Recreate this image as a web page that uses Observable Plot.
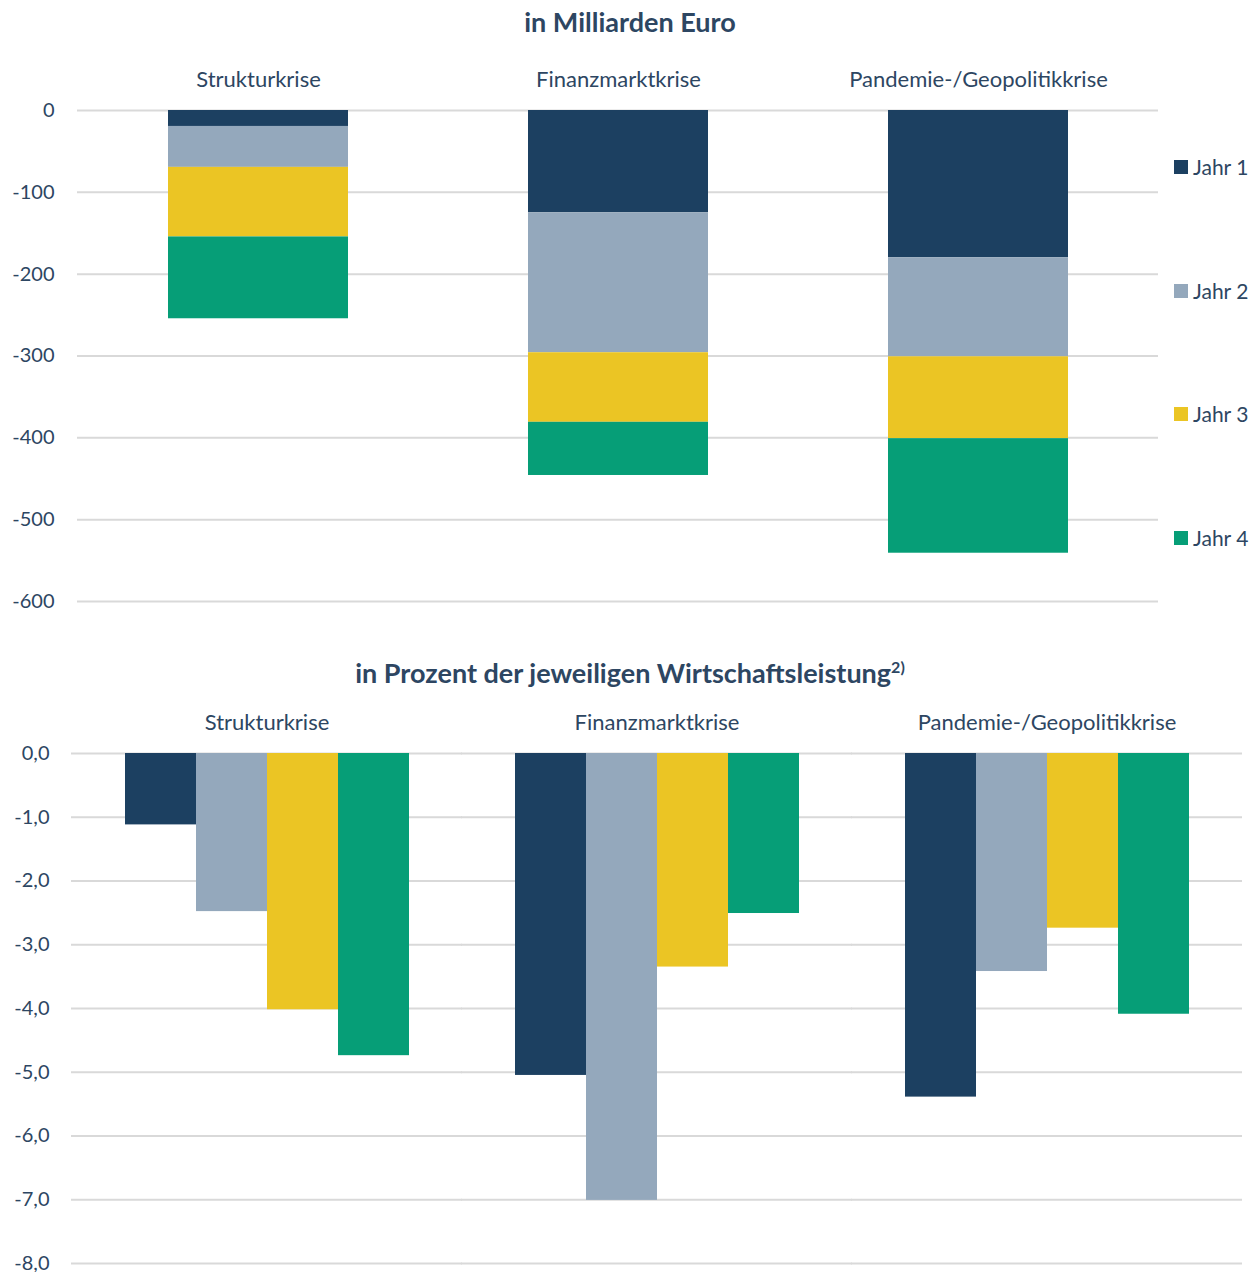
<!DOCTYPE html>
<html>
<head>
<meta charset="utf-8">
<script src="https://cdn.jsdelivr.net/npm/d3@7"></script>
<script src="https://cdn.jsdelivr.net/npm/@observablehq/plot@0.6"></script>
<style>
  body { margin: 0; background: #fff; }
  #wrap { position: relative; width: 1260px; height: 1272px; font-family: Lato, "Open Sans", sans-serif; color: #2d4662; }
  .title { position: absolute; left: 0; width: 1260px; text-align: center; font-weight: bold; font-size: 27px; line-height: 27px; }
  .title sup { font-size: 16px; line-height: 0; vertical-align: 10px; }
  .chart { position: absolute; left: 0; }
  .legend { position: absolute; left: 1174px; font-size: 21px; line-height: 20px; display: flex; align-items: center; }
  .legend span.sw { display: inline-block; width: 14px; height: 14px; margin-right: 5px; }
</style>
</head>
<body>
<div id="wrap">
  <div class="title" style="top:8px">in Milliarden Euro</div>
  <div id="top" class="chart" style="top:40px"></div>
  <div id="legend"></div>
  <div class="title" style="top:659px">in Prozent der jeweiligen Wirtschaftsleistung<sup>2)</sup></div>
  <div id="bottom" class="chart" style="top:693px"></div>
</div>
<script>
const groups = ["Strukturkrise", "Finanzmarktkrise", "Pandemie-/Geopolitikkrise"];
const years = ["Jahr 1", "Jahr 2", "Jahr 3", "Jahr 4"];
const colors = ["#1c4061", "#94a8bc", "#ebc524", "#069e77"];

// in Milliarden Euro (per year, per crisis)
const euroJahr1 = [-19.5, -125, -180];
const euroJahr2 = [-50, -171, -121];
const euroJahr3 = [-85, -85, -100];
const euroJahr4 = [-100, -65, -140];

// in Prozent der Wirtschaftsleistung
const pctJahr1 = [-1.12, -5.05, -5.39];
const pctJahr2 = [-2.48, -7.01, -3.42];
const pctJahr3 = [-4.02, -3.35, -2.74];
const pctJahr4 = [-4.74, -2.51, -4.09];

const euroTicks = [0, -100, -200, -300, -400, -500, -600];
const pctTicks = [0, -1, -2, -3, -4, -5, -6, -7, -8];

const textColor = "#2d4662";
const gridColor = "#d9d9d9";

const euroSeries = [euroJahr1, euroJahr2, euroJahr3, euroJahr4];
const pctSeries = [pctJahr1, pctJahr2, pctJahr3, pctJahr4];
const euroData = [];
const pctData = [];
groups.forEach((g, gi) => {
  years.forEach((y, yi) => {
    euroData.push({group: g, year: y, value: euroSeries[yi][gi]});
    pctData.push({group: g, year: y, value: pctSeries[yi][gi]});
  });
});

const style = {fontFamily: "Lato, 'Open Sans', sans-serif", fontSize: "20px", color: textColor, background: "transparent", overflow: "visible"};

const topChart = Plot.plot({
  width: 1260, height: 571,
  marginTop: 70, marginBottom: 10, marginLeft: 77, marginRight: 102,
  style,
  x: {domain: groups, paddingInner: 0.5, paddingOuter: 0.25},
  y: {domain: [-600, 0]},
  color: {domain: years, range: colors},
  marks: [
    Plot.gridY(euroTicks, {stroke: gridColor, strokeOpacity: 1, strokeWidth: 2}),
    Plot.barY(euroData, {x: "group", y: "value", fill: "year"}),
    Plot.axisX({anchor: "top", tickSize: 0, tickPadding: 24, label: null, fontSize: 22}),
    Plot.axisY({ticks: euroTicks, tickSize: 0, tickPadding: 23, label: null, fontSize: 20, tickFormat: d => String(d)})
  ]
});
document.getElementById("top").appendChild(topChart);

const bottomChart = Plot.plot({
  width: 1260, height: 578,
  marginTop: 60, marginBottom: 8, marginLeft: 71, marginRight: 18,
  style,
  fx: {domain: groups, paddingInner: 0.27, paddingOuter: 0.135},
  x: {domain: years, padding: 0, axis: null},
  y: {domain: [-8, 0]},
  color: {domain: years, range: colors},
  marks: [
    Plot.gridY(pctTicks, {stroke: gridColor, strokeOpacity: 1, strokeWidth: 2, insetLeft: -53, insetRight: -53}),
    Plot.barY(pctData, {fx: "group", x: "year", y: "value", fill: "year"}),
    Plot.axisFx({anchor: "top", tickSize: 0, tickPadding: 24, label: null, fontSize: 22}),
    Plot.axisY({ticks: pctTicks, tickSize: 0, tickPadding: 75, label: null, fontSize: 20,
      tickFormat: d => d.toFixed(1).replace(".", ",")})
  ]
});
document.getElementById("bottom").appendChild(bottomChart);

// Legend
const legendY = [167, 291, 414, 538];
const legend = document.getElementById("legend");
years.forEach((y, i) => {
  const div = document.createElement("div");
  div.className = "legend";
  div.style.top = (legendY[i] - 10) + "px";
  const sw = document.createElement("span");
  sw.className = "sw";
  sw.style.background = colors[i];
  div.appendChild(sw);
  div.appendChild(document.createTextNode(y));
  legend.appendChild(div);
});
</script>
</body>
</html>
